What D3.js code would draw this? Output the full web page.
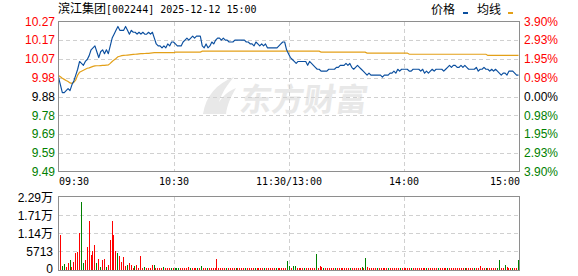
<!DOCTYPE html>
<html>
<head>
<meta charset="utf-8">
<script src="https://cdn.jsdelivr.net/npm/d3@7"></script>
<style>
  body { margin: 0; background: #fff; }
  svg text { font-family: "Liberation Sans", Arial, sans-serif; }
</style>
</head>
<body>
<div id="chart"></div>
<script>
// --- data ---
const stockName = '滨江集团';
const stockInfo = '[002244] 2025-12-12 15:00';
const prevClose = 9.88;

const pctTicks = [3.90, 2.93, 1.95, 0.98, 0, -0.98, -1.95, -2.93, -3.90];
const priceLabels = ['10.27', '10.17', '10.07', '9.98', '9.88', '9.78', '9.69', '9.59', '9.49'];
const pctLabels = ['3.90%', '2.93%', '1.95%', '0.98%', '0.00%', '0.98%', '1.95%', '2.93%', '3.90%'];

const timeTicks = [0, 60, 120, 180, 240];
const timeLabels = ['09:30', '10:30', '11:30/13:00', '14:00', '15:00'];

const volTicks = [0, 5713, 11426, 17139, 22852];
const volLabels = ['0', '5713', '1.14万', '1.71万', '2.29万'];

const prices = [
    9.98, 9.94, 9.90, 9.90, 9.91, 9.92, 9.91, 9.94, 9.96, 9.99,
    10.02, 10.06, 10.05, 10.04, 10.06, 10.07, 10.09, 10.12, 10.13, 10.14,
    10.11, 10.08, 10.11, 10.12, 10.10, 10.12, 10.10, 10.14, 10.18, 10.20,
    10.22, 10.24, 10.22, 10.22, 10.22, 10.24, 10.22, 10.20, 10.22, 10.21,
    10.21, 10.20, 10.21, 10.20, 10.21, 10.20, 10.20, 10.21, 10.20, 10.21,
    10.18, 10.15, 10.14, 10.14, 10.13, 10.14, 10.13, 10.15, 10.14, 10.16,
    10.16, 10.15, 10.14, 10.14, 10.14, 10.16, 10.17, 10.18, 10.17, 10.18,
    10.19, 10.18, 10.19, 10.19, 10.19, 10.14, 10.13, 10.15, 10.13, 10.14,
    10.16, 10.15, 10.17, 10.18, 10.18, 10.17, 10.18, 10.17, 10.17, 10.16,
    10.16, 10.16, 10.17, 10.17, 10.17, 10.17, 10.17, 10.17, 10.16, 10.16,
    10.15, 10.15, 10.14, 10.16, 10.15, 10.14, 10.15, 10.14, 10.15, 10.13,
    10.13, 10.13, 10.13, 10.13, 10.13, 10.14, 10.15, 10.16, 10.16, 10.12,
    10.10, 10.08, 10.07, 10.06, 10.05, 10.06, 10.06, 10.06, 10.06, 10.06,
    10.04, 10.06, 10.05, 10.04, 10.03, 10.02, 10.02, 10.01, 10.01, 10.01,
    10.01, 10.02, 10.02, 10.02, 10.02, 10.03, 10.03, 10.04, 10.04, 10.04,
    10.05, 10.04, 10.05, 10.03, 10.02, 10.03, 10.04, 10.03, 10.02, 10.01,
    10.00, 9.99, 10.00, 9.99, 9.99, 9.99, 9.99, 9.99, 9.99, 9.98,
    9.99, 9.99, 9.99, 10.00, 10.00, 10.01, 10.00, 10.02, 10.01, 10.02,
    10.02, 10.02, 10.02, 10.01, 10.01, 10.02, 10.02, 10.02, 10.02, 10.01,
    10.02, 10.00, 10.01, 10.00, 10.01, 10.02, 10.01, 10.02, 10.02, 10.02,
    10.02, 10.01, 10.02, 10.03, 10.04, 10.03, 10.04, 10.04, 10.03, 10.03,
    10.04, 10.03, 10.04, 10.03, 10.02, 10.02, 10.02, 10.02, 10.03, 10.01,
    10.02, 10.02, 10.03, 10.02, 10.02, 10.01, 10.02, 10.01, 10.02, 10.01,
    10.00, 9.99, 10.00, 10.00, 9.99, 10.01, 10.01, 10.01, 10.00, 9.99, 9.99
];

const avgPrices = [
    9.988, 9.981, 9.974, 9.968, 9.962, 9.957, 9.950, 9.948, 9.953, 9.965,
    9.990, 10.005, 10.010, 10.015, 10.020, 10.025, 10.027, 10.031, 10.035, 10.037,
    10.038, 10.038, 10.039, 10.040, 10.040, 10.041, 10.042, 10.050, 10.060, 10.068,
    10.075, 10.084, 10.087, 10.090, 10.091, 10.092, 10.093, 10.094, 10.095, 10.096,
    10.097, 10.098, 10.099, 10.100, 10.100, 10.101, 10.102, 10.102, 10.103, 10.104,
    10.105, 10.105, 10.105, 10.105, 10.105, 10.105, 10.105, 10.105, 10.105, 10.105,
    10.105, 10.108, 10.108, 10.108, 10.108, 10.108, 10.108, 10.108, 10.108, 10.108,
    10.108, 10.108, 10.108, 10.108, 10.108, 10.113, 10.113, 10.113, 10.113, 10.113,
    10.113, 10.113, 10.113, 10.113, 10.113, 10.113, 10.113, 10.113, 10.113, 10.113,
    10.113, 10.113, 10.113, 10.113, 10.113, 10.113, 10.113, 10.113, 10.113, 10.113,
    10.113, 10.113, 10.113, 10.113, 10.113, 10.113, 10.113, 10.113, 10.113, 10.113,
    10.113, 10.113, 10.113, 10.113, 10.113, 10.113, 10.113, 10.113, 10.113, 10.113,
    10.113, 10.113, 10.113, 10.113, 10.113, 10.113, 10.113, 10.113, 10.113, 10.113,
    10.113, 10.113, 10.113, 10.113, 10.113, 10.113, 10.113, 10.108, 10.108, 10.108,
    10.108, 10.108, 10.108, 10.108, 10.108, 10.108, 10.108, 10.108, 10.108, 10.108,
    10.108, 10.108, 10.108, 10.108, 10.108, 10.108, 10.108, 10.108, 10.108, 10.108,
    10.108, 10.103, 10.103, 10.103, 10.103, 10.103, 10.103, 10.103, 10.103, 10.103,
    10.103, 10.103, 10.103, 10.103, 10.103, 10.103, 10.103, 10.103, 10.103, 10.103,
    10.103, 10.103, 10.103, 10.097, 10.097, 10.097, 10.097, 10.097, 10.097, 10.097,
    10.097, 10.097, 10.097, 10.097, 10.097, 10.097, 10.097, 10.097, 10.097, 10.097,
    10.097, 10.097, 10.097, 10.097, 10.097, 10.097, 10.097, 10.097, 10.097, 10.097,
    10.097, 10.097, 10.097, 10.097, 10.097, 10.097, 10.097, 10.097, 10.097, 10.097,
    10.097, 10.097, 10.097, 10.097, 10.091, 10.091, 10.091, 10.091, 10.091, 10.091,
    10.091, 10.091, 10.091, 10.091, 10.091, 10.091, 10.091, 10.091, 10.091, 10.091, 10.091
];

const volumes = [
    10665, 730, 1460, 413, 1777, 2634, 413, 2000, 4856, 5174, 11204, 21044, 1682, 2540, 6760, 15013, 4317, 5713, 7490, 1682,
    3047, 413, 2730, 3047, 413, 1143, 9078, 15013, 10665, 5396, 4856, 4000, 2000, 3587, 730, 1143, 1777, 1143, 100, 730,
    1143, 100, 3809, 200, 413, 100, 100, 100, 1143, 1143, 200, 100, 100, 100, 413, 100, 100, 100, 100, 100,
    200, 200, 200, 100, 100, 100, 200, 413, 100, 100, 100, 100, 100, 200, 730, 100, 100, 100, 100, 100,
    100, 100, 3047, 100, 100, 100, 300, 100, 100, 100, 100, 100, 100, 100, 100, 100, 100, 100, 300, 100,
    100, 100, 100, 100, 100, 100, 100, 100, 100, 100, 100, 100, 100, 100, 100, 100, 100, 100, 100, 2317,
    730, 100, 730, 730, 200, 100, 100, 100, 100, 100, 100, 100, 100, 100, 4539, 100, 730, 400, 200, 100,
    100, 100, 100, 100, 100, 100, 100, 100, 100, 100, 100, 100, 100, 100, 100, 100, 100, 100, 400, 100,
    3270, 400, 100, 100, 100, 100, 100, 100, 100, 100, 100, 100, 100, 100, 100, 100, 100, 100, 100, 100,
    100, 100, 100, 100, 100, 100, 100, 100, 100, 100, 100, 100, 100, 100, 100, 100, 100, 100, 100, 100,
    100, 100, 100, 100, 100, 100, 100, 100, 100, 100, 100, 100, 100, 100, 100, 100, 100, 100, 100, 100,
    730, 100, 100, 100, 100, 100, 100, 100, 250, 300, 2634, 100, 100, 1047, 400, 150, 100, 100, 100, 100,
    2634
];

// r = up minute (red), g = down minute (green)
const volDirs = [
    'rggrrgrrrrrggrrrrrrg', 'rgrrgrrrrrgrrrrgrrrg', 'rrrrgrrrrgrrrrgrrrgr',
    'gggrrrrrgrrrgrgrrgrr', 'rrrrrrrgrrrrgrrrrgrr', 'rrgrrrrgrrrrrgrrrrrg',
    'grggrrrrgrrrrrgrrrgr', 'rrrrgrrrrrrrgrrrrrgr', 'grrrrrgrrrrrgrrrrrgr',
    'rrrrgrrrrrrrgrrrrrgr', 'rrrgrrrrrrrrgrrrrgrr', 'rrrgrrrrrggrrgrrrgrr', 'g'
].join('');

// --- layout ---
const width = 578, height = 276;
const pricePlot = {left: 58.5, right: 519.5, top: 21.5, bottom: 171.5};
const volPlot = {left: 58.5, right: 519.5, top: 196.5, bottom: 270.5};
const upColor = '#ff0000', downColor = '#008000', flatColor = '#000000';
const gridColor = '#d0d0d0', borderColor = '#8e8e8e';

const svg = d3.select('#chart')
    .append('svg')
    .attr('width', width)
    .attr('height', height);

const x = d3.scaleLinear().domain([0, 240]).range([58.5, 518.5]);
const xBar = d3.scaleLinear().domain([0, 240]).range([60, 518]);
const yPct = d3.scaleLinear().domain([-3.9, 3.9]).range([pricePlot.bottom, pricePlot.top]);
const yPrice = d3.scaleLinear()
    .domain([prevClose * (1 - 0.039), prevClose * (1 + 0.039)])
    .range([pricePlot.bottom, pricePlot.top]);
const yVol = d3.scaleLinear().domain([0, 22852]).range([268.5, 196.5]);

function tickColor(v) {
    if (v > 0) return upColor;
    if (v < 0) return downColor;
    return flatColor;
}

// watermark
const mark = svg.append('g').attr('fill', '#e8e8e8');
mark.append('text')
    .attr('x', 240)
    .attr('y', 111)
    .attr('font-size', 32)
    .attr('font-weight', 'bold')
    .attr('transform', 'skewX(-8) translate(14,0)')
    .style('font-family', '"Noto Sans CJK SC", sans-serif')
    .text('东方财富');
mark.append('path')
    .attr('d', 'M203,114 C206,96 216,84 234,77 C224,88 218,100 216,114 Z M213,114 C218,100 226,92 236,88 C230,98 227,106 226,114 Z');

// title + legend
const title = svg.append('text')
    .attr('x', 58)
    .attr('y', 13)
    .attr('fill', '#000');
title.append('tspan')
    .attr('font-size', 12)
    .style('font-family', '"Noto Sans CJK SC", sans-serif')
    .text(stockName);
title.append('tspan')
    .attr('font-size', 10)
    .style('font-family', '"DejaVu Sans Mono", monospace')
    .text(stockInfo);

const legend = [
    {label: '价格', color: '#0b4f9f', tx: 431, rx: 463},
    {label: '均线', color: '#e3a018', tx: 477, rx: 508}
];
legend.forEach(d => {
    svg.append('text')
        .attr('x', d.tx)
        .attr('y', 13.5)
        .attr('font-size', 12)
        .style('font-family', '"Noto Sans CJK SC", sans-serif')
        .text(d.label);
    svg.append('rect')
        .attr('x', d.rx)
        .attr('y', 12)
        .attr('width', 5)
        .attr('height', 2)
        .attr('fill', d.color);
});

// grid lines
const grid = svg.append('g')
    .attr('stroke', gridColor)
    .attr('stroke-dasharray', '4,3')
    .attr('shape-rendering', 'crispEdges');

grid.selectAll('.hgrid')
    .data(pctTicks.slice(1, -1))
    .enter().append('line')
    .attr('x1', pricePlot.left)
    .attr('x2', pricePlot.right)
    .attr('y1', d => Math.round(yPct(d)) + 0.5)
    .attr('y2', d => Math.round(yPct(d)) + 0.5);

grid.selectAll('.vgrid')
    .data(timeTicks.slice(1, -1))
    .enter().append('line')
    .attr('x1', d => Math.round(x(d)) + 0.5)
    .attr('x2', d => Math.round(x(d)) + 0.5)
    .attr('y1', pricePlot.top)
    .attr('y2', pricePlot.bottom);

grid.selectAll('.hvgrid')
    .data(volTicks.slice(1, -1))
    .enter().append('line')
    .attr('x1', volPlot.left)
    .attr('x2', volPlot.right)
    .attr('y1', d => Math.round(yVol(d)) + 0.5)
    .attr('y2', d => Math.round(yVol(d)) + 0.5);

grid.selectAll('.vvgrid')
    .data(timeTicks.slice(1, -1))
    .enter().append('line')
    .attr('x1', d => Math.round(x(d)) + 0.5)
    .attr('x2', d => Math.round(x(d)) + 0.5)
    .attr('y1', volPlot.top)
    .attr('y2', volPlot.bottom);

// price + average lines
const line = d3.line()
    .x((d, i) => x(i))
    .y(d => yPrice(d));

svg.append('path')
    .datum(avgPrices)
    .attr('fill', 'none')
    .attr('stroke', '#e3a018')
    .attr('stroke-width', 1.2)
    .attr('d', line);

svg.append('path')
    .datum(prices)
    .attr('fill', 'none')
    .attr('stroke', '#0b4f9f')
    .attr('stroke-width', 1.15)
    .attr('stroke-linejoin', 'round')
    .attr('d', line);

// volume bars
svg.append('g')
    .attr('shape-rendering', 'crispEdges')
    .selectAll('rect')
    .data(volumes)
    .enter().append('rect')
    .attr('x', (d, i) => Math.round(xBar(i)))
    .attr('width', 1)
    .attr('y', d => Math.min(yVol(d), 268))
    .attr('height', d => 270 - Math.min(yVol(d), 268))
    .attr('fill', (d, i) => volDirs[i] === 'g' ? downColor : upColor);

// frames
[pricePlot, volPlot].forEach(p => {
    svg.append('rect')
        .attr('x', p.left)
        .attr('y', p.top)
        .attr('width', p.right - p.left)
        .attr('height', p.bottom - p.top)
        .attr('fill', 'none')
        .attr('stroke', borderColor)
        .attr('stroke-width', 1);
});

// axes
const leftAxis = svg.append('g')
    .attr('transform', 'translate(58,0)')
    .call(d3.axisLeft(yPct)
        .tickValues(pctTicks)
        .tickFormat((d, i) => priceLabels[i])
        .tickSize(0)
        .tickPadding(3));
leftAxis.selectAll('text')
    .attr('font-size', 12)
    .attr('fill', d => tickColor(d));

const rightAxis = svg.append('g')
    .attr('transform', 'translate(520,0)')
    .call(d3.axisRight(yPct)
        .tickValues(pctTicks)
        .tickFormat((d, i) => pctLabels[i])
        .tickSize(0)
        .tickPadding(4));
rightAxis.selectAll('text')
    .attr('font-size', 12)
    .attr('fill', d => tickColor(d));

const timeAxis = svg.append('g')
    .attr('transform', 'translate(0,172)')
    .call(d3.axisBottom(x)
        .tickValues(timeTicks)
        .tickFormat((d, i) => timeLabels[i])
        .tickSize(0)
        .tickPadding(6));
timeAxis.selectAll('text')
    .attr('font-size', 10)
    .attr('fill', '#000')
    .style('font-family', '"DejaVu Sans Mono", monospace')
    .attr('text-anchor', (d, i) => i === 0 ? 'start' : (i === timeTicks.length - 1 ? 'end' : 'middle'))
    .attr('dx', (d, i) => i === timeTicks.length - 1 ? 1 : 0);

const volAxis = svg.append('g')
    .attr('transform', 'translate(58,0)')
    .call(d3.axisLeft(yVol)
        .tickValues(volTicks)
        .tickFormat((d, i) => volLabels[i])
        .tickSize(0)
        .tickPadding(5));
volAxis.selectAll('text')
    .attr('font-size', 12)
    .attr('fill', '#000')
    .attr('dy', (d, i) => i === 0 ? '0.3em' : '0.45em')
    .style('font-family', '"Liberation Sans", "Noto Sans CJK SC", sans-serif');

svg.selectAll('.domain').remove();
</script>
</body>
</html>
